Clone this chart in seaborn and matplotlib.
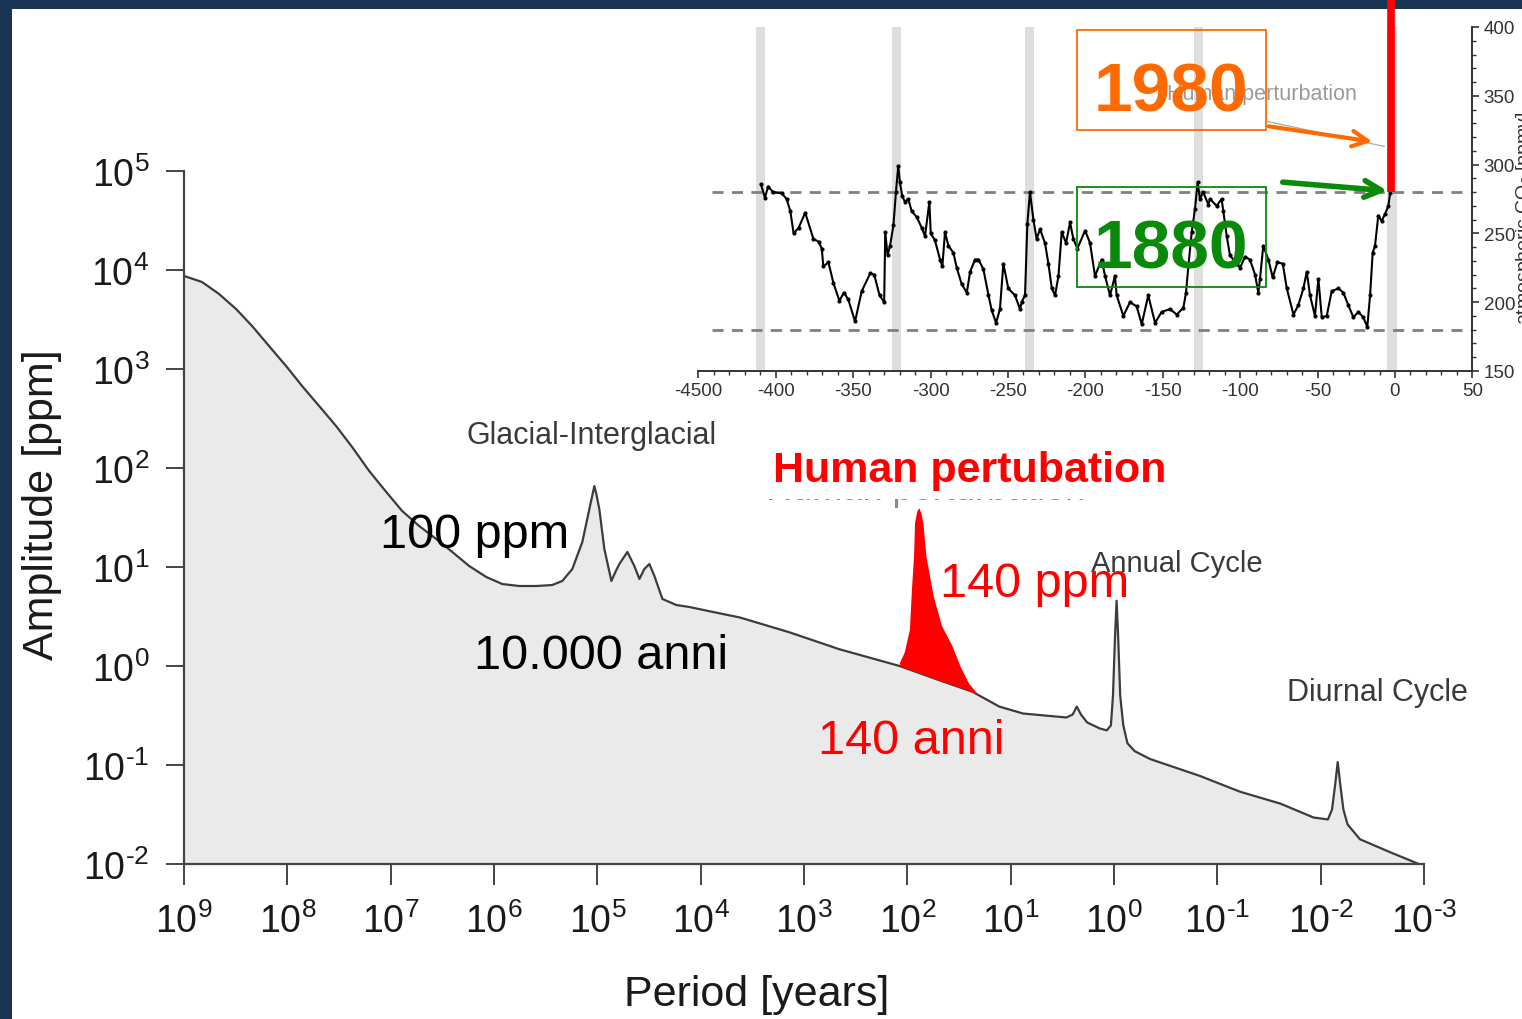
import numpy as np
import pandas as pd
import matplotlib
matplotlib.use("Agg")
import matplotlib.pyplot as plt
import seaborn as sns
from matplotlib.patches import Rectangle
from matplotlib.ticker import NullLocator, MultipleLocator, FixedLocator

# ---------------- data ----------------
# CO2 amplitude spectrum (log10 period [years], log10 amplitude [ppm])
spec_log_period = [9.0, 8.826, 8.661, 8.496, 8.341, 8.177, 8.012, 7.857, 7.692, 7.528, 7.373,
                   7.208, 7.043, 6.889, 6.724, 6.559, 6.404, 6.240, 6.075, 5.920, 5.755, 5.590,
                   5.436, 5.339, 5.242, 5.145, 5.077, 5.045, 5.029, 5.010, 4.981, 4.932, 4.864,
                   4.825, 4.787, 4.709, 4.642, 4.593, 4.545, 4.496, 4.448, 4.370, 4.235, 4.109,
                   3.9, 3.62, 3.14, 2.66, 2.075, 1.70, 1.37, 1.11, 0.88, 0.46, 0.40, 0.36, 0.32,
                   0.26, 0.14, 0.07, 0.03, 0.01, -0.01, -0.025, -0.04, -0.06, -0.09, -0.13,
                   -0.2, -0.35, -0.83, -1.22, -1.61, -1.93, -2.07, -2.11, -2.14, -2.165, -2.19,
                   -2.22, -2.26, -2.38, -2.67, -2.95]
spec_log_amp = [3.94, 3.879, 3.758, 3.606, 3.434, 3.232, 3.030, 2.828, 2.626, 2.424, 2.212,
                1.970, 1.758, 1.566, 1.414, 1.283, 1.152, 1.010, 0.899, 0.828, 0.808, 0.808,
                0.818, 0.859, 0.980, 1.253, 1.586, 1.74, 1.818, 1.74, 1.586, 1.182, 0.859,
                0.95, 1.030, 1.152, 1.010, 0.879, 0.980, 1.030, 0.909, 0.677, 0.616, 0.596,
                0.55, 0.49, 0.34, 0.17, 0.0, -0.14, -0.26, -0.41, -0.48, -0.52, -0.49, -0.41,
                -0.49, -0.57, -0.63, -0.65, -0.60, -0.30, 0.30, 0.66, 0.30, -0.30, -0.60, -0.78,
                -0.86, -0.94, -1.11, -1.27, -1.39, -1.53, -1.55, -1.45, -1.20, -0.97, -1.20,
                -1.45, -1.60, -1.75, -1.88, -2.0]

# Human perturbation peak (log10 period, log10 amplitude)
pert_log_period = [2.075, 2.03, 1.98, 1.96, 1.94, 1.93, 1.91, 1.89, 1.87, 1.85, 1.82, 1.75,
                   1.67, 1.57, 1.49, 1.41, 1.33]
pert_log_amp = [0.04, 0.14, 0.37, 0.78, 1.11, 1.45, 1.56, 1.60, 1.55, 1.45, 1.11, 0.71,
                0.41, 0.21, 0.0, -0.17, -0.27]

# Vostok CO2 record (kyr BP, ppmv)
co2_kyr = [-409.7, -407, -405, -401.7, -396, -393, -390.6, -388.5, -385.3, -381, -375.7, -372.4,
           -370.3, -369.3, -366, -362.8, -358.9, -356, -353.2, -348.8, -344.5, -339, -336.4,
           -333, -330, -329.3, -327.8, -326.2, -324, -322.4, -320.9, -319.8, -318.3, -316.6,
           -314.4, -312.2, -309, -305.7, -303.6, -300.8, -299.9, -297.2, -293.9, -292.4,
           -290.7, -288.5, -285.3, -283.1, -279.9, -276.6, -274.5, -271.3, -269.1, -265.9,
           -262.6, -260.5, -257.7, -255.2, -253, -249.8, -245.5, -242.2, -241.2, -239,
           -237.5, -235.8, -233.6, -231.5, -229.3, -226.1, -223.9, -221.7, -219.6, -217.4,
           -215.3, -212.5, -209.9, -207.8, -205.2, -200.2, -197, -193.8, -189.5, -187.3,
           -184.1, -180.9, -179.8, -175.5, -171.2, -166.9, -163.6, -159.4, -155, -150.7,
           -145.3, -141, -136.7, -135, -133.5, -131.3, -129.2, -127.5, -126, -123.9, -120.6,
           -119.5, -115.2, -112, -110.9, -108.7, -106.6, -102.3, -100.1, -96.9, -93.7,
           -90.4, -88.3, -87.2, -85.1, -81.8, -79, -76, -72.5, -69.9, -65.6, -62.4, -59.2,
           -57, -54.9, -51.7, -49.5, -47.3, -44.1, -40.9, -36.6, -33.4, -30.2, -26.9, -23.7,
           -20.5, -17.9, -16.1, -14.4, -12.9, -10.8, -8.6, -6.5, -4.3, -3.2]
co2_ppm = [286, 276, 284, 280, 279, 275, 266, 250, 254, 265, 246, 244,
           239, 226, 229, 214, 201, 207, 202, 186, 208, 221, 220,
           205, 200, 251, 234, 241, 256, 280, 299, 287, 277, 273,
           275, 266, 262, 254, 248, 273, 250, 245, 231, 226,
           251, 241, 236, 225, 213, 207, 222, 231, 231, 224,
           205, 194, 185, 195, 228, 210, 205, 195, 200, 205,
           257, 280, 260, 246, 253, 243, 228, 210, 205, 219,
           251, 243, 258, 246, 239, 252, 243, 219, 231, 219,
           205, 219, 205, 190, 200, 197, 184, 205, 185, 193,
           195, 191, 196, 207, 226, 251, 268, 287, 275, 280, 271,
           275, 270, 275, 266, 248, 234, 228, 225, 233, 231,
           220, 207, 217, 241, 231, 218, 229, 228, 210, 191, 198, 210,
           222, 205, 190, 217, 189, 190, 208, 210, 207, 198, 189, 193,
           189, 182, 205, 236, 241, 263, 259, 264, 270, 279]

# Human perturbation (kyr, ppmv) - runs off the top of the inset
human_kyr = [-2.9, -2.9]
human_ppm = [280, 422]

# Interglacial bands (kyr) and reference levels (ppmv)
band_kyr = [-410, -322, -236, -127, -2]
ref_levels = [280, 180]

# Tick definitions
main_x_exp = [9, 8, 7, 6, 5, 4, 3, 2, 1, 0, -1, -2, -3]
main_y_exp = [5, 4, 3, 2, 1, 0, -1, -2]
inset_xticks = [-450, -400, -350, -300, -250, -200, -150, -100, -50, 0, 50]
inset_xticklabels = ['-4500', '-400', '-350', '-300', '-250', '-200', '-150', '-100', '-50', '0', '50']
inset_yticks = [150, 200, 250, 300, 350, 400]

# ---------------- style ----------------
sns.set_theme(style="white")
plt.rcParams['font.family'] = ['Liberation Sans', 'DejaVu Sans']
plt.rcParams['mathtext.fontset'] = 'custom'
plt.rcParams['mathtext.rm'] = 'Liberation Sans'
plt.rcParams['mathtext.it'] = 'Liberation Sans:italic'
plt.rcParams['mathtext.bf'] = 'Liberation Sans:bold'

W, H = 1522, 1020
fig = plt.figure(figsize=(W / 100, H / 100), dpi=100)
fig.patch.set_facecolor('#1a3455')
fig.add_artist(Rectangle((12 / W, 0), 1 - 12 / W, (H - 10) / H, transform=fig.transFigure,
                         facecolor='white', edgecolor='none', zorder=-5))


def fx(px):
    return px / W


def fy(py):
    return 1 - py / H


def pow_label(k):
    if k < 0:
        return r'$10^{\text{-}%d}$' % (-k)
    return r'$10^{%d}$' % k


# ---------------- main spectrum axes ----------------
ax = fig.add_axes([fx(184), fy(865), (1424 - 184) / W, (865 - 172) / H])
ax.set_facecolor('none')
ax.set_xscale('log')
ax.set_yscale('log')

spec = pd.DataFrame({'period': 10 ** np.array(spec_log_period),
                     'amplitude': 10 ** np.array(spec_log_amp)})
ax.fill_between(spec['period'], spec['amplitude'], 1e-2, color='#e9eae9', lw=0, zorder=1)
sns.lineplot(data=spec, x='period', y='amplitude', ax=ax, color='#3c3c3c', lw=1.6,
             sort=False, estimator=None, zorder=2)

pert_period = 10 ** np.array(pert_log_period)
base_amp = 10 ** np.interp(pert_log_period, spec_log_period[::-1], spec_log_amp[::-1])
ax.fill_between(pert_period, base_amp, 10 ** np.array(pert_log_amp), color='red', lw=0, zorder=3)

ax.set_xlim(1e9, 1e-3)
ax.set_ylim(1e-2, 1e5)
ax.xaxis.set_major_locator(FixedLocator([10.0 ** k for k in main_x_exp]))
ax.set_xticklabels([pow_label(k) for k in main_x_exp])
ax.yaxis.set_major_locator(FixedLocator([10.0 ** k for k in main_y_exp]))
ax.set_yticklabels([pow_label(k) for k in main_y_exp])
ax.xaxis.set_minor_locator(NullLocator())
ax.yaxis.set_minor_locator(NullLocator())
ax.tick_params(axis='x', direction='out', length=15, width=1.4, color='#444', pad=13,
               labelsize=27, labelcolor='#1a1a1a', bottom=True)
ax.tick_params(axis='y', direction='out', length=13, width=1.4, color='#444', pad=12,
               labelsize=27, labelcolor='#1a1a1a', left=True)
for s in ['top', 'right']:
    ax.spines[s].set_visible(False)
for s in ['left', 'bottom']:
    ax.spines[s].set_color('#444')
    ax.spines[s].set_linewidth(1.6)

ax.set_xlabel('Period [years]', fontsize=31, color='#1a1a1a')
ax.xaxis.set_label_coords((757 - 184) / 1240, (865 - 975) / 693)
ax.set_ylabel('Amplitude [ppm]', fontsize=31, color='#1a1a1a')
ax.yaxis.set_label_coords((62 - 184) / 1240, (865 - 505) / 693)

# annotations on the spectrum
fig.text(fx(592), fy(444), 'Glacial-Interglacial', fontsize=22, color='#3a3a3a', ha='center', va='baseline')
fig.text(fx(475), fy(548), '100 ppm', fontsize=35, color='black', ha='center', va='baseline', zorder=8)
fig.text(fx(601), fy(669), '10.000 anni', fontsize=35, color='black', ha='center', va='baseline', zorder=8)
fig.text(fx(926), fy(500), 'Human perturbation', fontsize=26, color='#8a8a8a', ha='center', va='baseline', zorder=5)
fig.add_artist(Rectangle((fx(750), fy(500)), 445 / W, 75 / H, transform=fig.transFigure,
                         facecolor='white', edgecolor='none', zorder=6))
fig.text(fx(970), fy(482), 'Human pertubation', fontsize=31, fontweight='bold', color='red',
         ha='center', va='baseline', zorder=7)
fig.text(fx(1177), fy(572), 'Annual Cycle', fontsize=21, color='#3a3a3a', ha='center', va='baseline', zorder=7)
fig.text(fx(1035), fy(597), '140 ppm', fontsize=35, color='red', ha='center', va='baseline', zorder=8)
fig.text(fx(1377), fy(701), 'Diurnal Cycle', fontsize=22, color='#3a3a3a', ha='center', va='baseline', zorder=7)
fig.text(fx(911), fy(754), '140 anni', fontsize=35, color='red', ha='center', va='baseline', zorder=8)

# ---------------- inset: Vostok CO2 ----------------
ax2 = fig.add_axes([fx(698.4), fy(372), 774 / W, 344 / H])
ax2.set_facecolor('none')
for b in band_kyr:
    ax2.axvspan(b - 3, b + 3, color='#dedede', lw=0, zorder=0)
for lvl in ref_levels:
    ax2.axhline(lvl, xmin=0.018, xmax=1, color='#808080', lw=2.0, dashes=(4, 3), zorder=1)

sns.lineplot(x=co2_kyr, y=co2_ppm, ax=ax2, color='black', lw=1.5, marker='o', markersize=3.0,
             markeredgewidth=0, sort=False, estimator=None, zorder=3)
ax2.plot(human_kyr, human_ppm, color='red', lw=5.5, solid_capstyle='butt', clip_on=False, zorder=6)

ax2.set_xlim(-450, 50)
ax2.set_ylim(150, 400)
ax2.set_xticks(inset_xticks)
ax2.set_xticklabels(inset_xticklabels)
ax2.set_yticks(inset_yticks)
ax2.xaxis.set_minor_locator(MultipleLocator(10))
ax2.yaxis.set_minor_locator(MultipleLocator(10))
ax2.yaxis.tick_right()
ax2.tick_params(axis='both', which='major', direction='out', length=5, width=1.2, color='#333',
                labelsize=13.5, labelcolor='#333', pad=3)
ax2.tick_params(axis='both', which='minor', direction='out', length=3, width=1.0, color='#333')
ax2.tick_params(axis='y', which='both', right=True, left=False)
ax2.tick_params(axis='x', which='both', bottom=True)
for s in ['top', 'left']:
    ax2.spines[s].set_visible(False)
for s in ['right', 'bottom']:
    ax2.spines[s].set_color('#333')
    ax2.spines[s].set_linewidth(1.4)
ax2.set_xlabel('')
ax2.set_ylabel('')
fig.text(fx(1514), fy(218), 'atmospheric CO$_2$ [ppmv]', fontsize=14, color='#333', rotation=90,
         ha='left', va='center')

# inset annotations
ax2.text(-85.9, 352, 'Human perturbation', fontsize=15.5, color='#9a9a9a', ha='center', va='center', zorder=2)
ax2.annotate('', xy=(-5.2, 312.8), xytext=(-84, 331.7),
             arrowprops=dict(arrowstyle='-', color='#b0b0b0', lw=1.0), zorder=2)
ax2.add_patch(Rectangle((-205.4, 325.1), 122.1, 72.7, fill=False, edgecolor='#ff6a00', lw=1.3,
                        clip_on=False, zorder=4))
ax2.add_patch(Rectangle((-205.4, 211.0), 122.1, 72.7, fill=False, edgecolor='#0a8a0a', lw=1.3,
                        clip_on=False, zorder=4))
ax2.text(-144.7, 339, '1980', fontsize=50, fontweight='bold', color='#ff6a00',
         ha='center', va='baseline', zorder=5)
ax2.text(-144.7, 225.5, '1880', fontsize=50, fontweight='bold', color='#0a8a0a',
         ha='center', va='baseline', zorder=5)
ax2.annotate('', xy=(-12.9, 316.4), xytext=(-83.3, 328.1),
             arrowprops=dict(arrowstyle='->', color='#ff6a00', lw=3, mutation_scale=28), zorder=5)
ax2.annotate('', xy=(-3.2, 280.8), xytext=(-74.3, 287.4),
             arrowprops=dict(arrowstyle='->', color='#0a8a0a', lw=4, mutation_scale=30), zorder=5)

fig.savefig('out.png', dpi=100, facecolor=fig.get_facecolor())
